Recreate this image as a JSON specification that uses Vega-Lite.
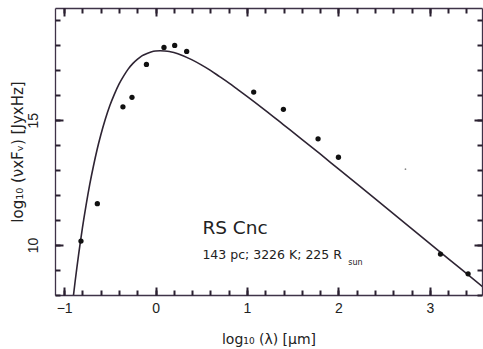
{
  "$schema": "https://vega.github.io/schema/vega-lite/v6.json",
  "width": 427,
  "height": 287,
  "autosize": {"type": "none"},
  "padding": {"left": 55, "top": 8, "right": 1, "bottom": 54},
  "background": "white",
  "config": {
    "view": {"stroke": null},
    "axis": {"grid": false, "domainColor": "#3f3348", "tickColor": "#2a2030", "labelFontSize": 14, "labelColor": "#222222", "titleColor": "#222222", "titleFontWeight": "normal"}
  },
  "data": {"values": [
    {"series": "curve", "logLambda": -0.90, "logNuFnu": 7.92},
    {"series": "curve", "logLambda": -0.88, "logNuFnu": 8.54},
    {"series": "curve", "logLambda": -0.86, "logNuFnu": 9.12},
    {"series": "curve", "logLambda": -0.84, "logNuFnu": 9.67},
    {"series": "curve", "logLambda": -0.82, "logNuFnu": 10.19},
    {"series": "curve", "logLambda": -0.80, "logNuFnu": 10.69},
    {"series": "curve", "logLambda": -0.76, "logNuFnu": 11.60},
    {"series": "curve", "logLambda": -0.72, "logNuFnu": 12.43},
    {"series": "curve", "logLambda": -0.68, "logNuFnu": 13.16},
    {"series": "curve", "logLambda": -0.64, "logNuFnu": 13.82},
    {"series": "curve", "logLambda": -0.60, "logNuFnu": 14.40},
    {"series": "curve", "logLambda": -0.55, "logNuFnu": 15.04},
    {"series": "curve", "logLambda": -0.50, "logNuFnu": 15.59},
    {"series": "curve", "logLambda": -0.45, "logNuFnu": 16.05},
    {"series": "curve", "logLambda": -0.40, "logNuFnu": 16.45},
    {"series": "curve", "logLambda": -0.35, "logNuFnu": 16.77},
    {"series": "curve", "logLambda": -0.30, "logNuFnu": 17.05},
    {"series": "curve", "logLambda": -0.25, "logNuFnu": 17.27},
    {"series": "curve", "logLambda": -0.20, "logNuFnu": 17.44},
    {"series": "curve", "logLambda": -0.15, "logNuFnu": 17.58},
    {"series": "curve", "logLambda": -0.10, "logNuFnu": 17.67},
    {"series": "curve", "logLambda": -0.05, "logNuFnu": 17.74},
    {"series": "curve", "logLambda": 0.00, "logNuFnu": 17.78},
    {"series": "curve", "logLambda": 0.05, "logNuFnu": 17.79},
    {"series": "curve", "logLambda": 0.10, "logNuFnu": 17.78},
    {"series": "curve", "logLambda": 0.15, "logNuFnu": 17.76},
    {"series": "curve", "logLambda": 0.20, "logNuFnu": 17.72},
    {"series": "curve", "logLambda": 0.30, "logNuFnu": 17.59},
    {"series": "curve", "logLambda": 0.40, "logNuFnu": 17.42},
    {"series": "curve", "logLambda": 0.50, "logNuFnu": 17.22},
    {"series": "curve", "logLambda": 0.60, "logNuFnu": 17.00},
    {"series": "curve", "logLambda": 0.70, "logNuFnu": 16.75},
    {"series": "curve", "logLambda": 0.80, "logNuFnu": 16.50},
    {"series": "curve", "logLambda": 0.90, "logNuFnu": 16.23},
    {"series": "curve", "logLambda": 1.00, "logNuFnu": 15.96},
    {"series": "curve", "logLambda": 1.20, "logNuFnu": 15.40},
    {"series": "curve", "logLambda": 1.40, "logNuFnu": 14.82},
    {"series": "curve", "logLambda": 1.60, "logNuFnu": 14.24},
    {"series": "curve", "logLambda": 1.80, "logNuFnu": 13.65},
    {"series": "curve", "logLambda": 2.00, "logNuFnu": 13.05},
    {"series": "curve", "logLambda": 2.40, "logNuFnu": 11.86},
    {"series": "curve", "logLambda": 2.80, "logNuFnu": 10.66},
    {"series": "curve", "logLambda": 3.20, "logNuFnu": 9.46},
    {"series": "curve", "logLambda": 3.60, "logNuFnu": 8.26},
    {"series": "obs", "logLambda": -0.816, "logNuFnu": 10.16},
    {"series": "obs", "logLambda": -0.637, "logNuFnu": 11.66},
    {"series": "obs", "logLambda": -0.357, "logNuFnu": 15.54},
    {"series": "obs", "logLambda": -0.258, "logNuFnu": 15.92},
    {"series": "obs", "logLambda": -0.100, "logNuFnu": 17.24},
    {"series": "obs", "logLambda": 0.092, "logNuFnu": 17.92},
    {"series": "obs", "logLambda": 0.209, "logNuFnu": 18.00},
    {"series": "obs", "logLambda": 0.340, "logNuFnu": 17.76},
    {"series": "obs", "logLambda": 1.073, "logNuFnu": 16.13},
    {"series": "obs", "logLambda": 1.398, "logNuFnu": 15.44},
    {"series": "obs", "logLambda": 1.777, "logNuFnu": 14.26},
    {"series": "obs", "logLambda": 2.000, "logNuFnu": 13.52},
    {"series": "obs", "logLambda": 3.116, "logNuFnu": 9.64},
    {"series": "obs", "logLambda": 3.418, "logNuFnu": 8.85},
    {"series": "speck", "logLambda": 2.733, "logNuFnu": 13.04},
    {"series": "starName", "logLambda": 0.512, "logNuFnu": 10.68, "label": "RS Cnc"},
    {"series": "params", "logLambda": 0.512, "logNuFnu": 9.60, "label": "143 pc; 3226 K; 225 R"},
    {"series": "sub", "logLambda": 2.107, "logNuFnu": 9.28, "label": "sun"}
  ]},
  "layer": [
    {
      "transform": [{"filter": "datum.series == 'curve'"}],
      "mark": {"type": "line", "clip": true, "color": "#2e2433", "strokeWidth": 1.6, "interpolate": "monotone"},
      "encoding": {
        "x": {"field": "logLambda", "type": "quantitative",
          "scale": {"domain": [-1.1, 3.57], "nice": false, "zero": false},
          "axis": {"orient": "bottom", "values": [-1, 0, 1, 2, 3], "format": "d", "ticks": false, "domain": true, "domainWidth": 1.3, "labelFont": "Liberation Sans", "labelPadding": 6, "title": "log₁₀ (λ) [μm]", "titleFont": "DejaVu Sans", "titleFontSize": 14, "titlePadding": 17}},
        "y": {"field": "logNuFnu", "type": "quantitative",
          "scale": {"domain": [8, 19.5], "nice": false, "zero": false},
          "axis": {"orient": "left", "values": [10, 15], "ticks": false, "domain": true, "domainWidth": 1.3, "labelFont": "Liberation Sans", "labelAngle": -90, "labelPadding": 15, "title": "log₁₀ (νxFᵥ) [JyxHz]", "titleFont": "DejaVu Sans", "titleFontSize": 15, "titlePadding": 1}}
      }
    },
    {
      "transform": [{"filter": "datum.series == 'obs'"}],
      "mark": {"type": "point", "filled": true, "color": "#111111", "opacity": 1, "size": 28},
      "encoding": {
        "x": {"field": "logLambda", "type": "quantitative",
          "axis": {"orient": "bottom", "offset": -8, "values": [-1, 0, 1, 2, 3], "tickSize": 8, "tickColor": "#2a2030", "tickWidth": 2, "labels": false, "domain": false, "title": null}},
        "y": {"field": "logNuFnu", "type": "quantitative",
          "axis": {"orient": "left", "offset": -8, "values": [10, 15], "tickSize": 8, "tickColor": "#2a2030", "tickWidth": 2, "labels": false, "domain": false, "title": null}}
      }
    },
    {
      "transform": [{"filter": "datum.series == 'starName'"}],
      "mark": {"type": "text", "align": "left", "baseline": "middle", "fontSize": 18.5, "color": "#222222", "font": "DejaVu Sans"},
      "encoding": {
        "x": {"field": "logLambda", "type": "quantitative",
          "axis": {"orient": "bottom", "offset": -5, "values": [-1, -0.8, -0.6, -0.4, -0.2, 0, 0.2, 0.4, 0.6, 0.8, 1, 1.2, 1.4, 1.6, 1.8, 2, 2.2, 2.4, 2.6, 2.8, 3, 3.2, 3.4], "tickSize": 5, "tickColor": "#2a2030", "tickWidth": 2, "labels": false, "domain": false, "title": null}},
        "y": {"field": "logNuFnu", "type": "quantitative",
          "axis": {"orient": "left", "offset": -5, "values": [8, 9, 10, 11, 12, 13, 14, 15, 16, 17, 18, 19], "tickSize": 5, "tickColor": "#2a2030", "tickWidth": 2, "labels": false, "domain": false, "title": null}},
        "text": {"field": "label"}
      }
    },
    {
      "transform": [{"filter": "datum.series == 'params'"}],
      "mark": {"type": "text", "align": "left", "baseline": "middle", "fontSize": 12.5, "color": "#222222", "font": "DejaVu Sans"},
      "encoding": {
        "x": {"field": "logLambda", "type": "quantitative",
          "axis": {"orient": "top", "ticks": false, "labels": false, "domain": true, "domainWidth": 1.3, "title": null}},
        "y": {"field": "logNuFnu", "type": "quantitative",
          "axis": {"orient": "right", "ticks": false, "labels": false, "domain": true, "domainWidth": 1.3, "title": null}},
        "text": {"field": "label"}
      }
    },
    {
      "transform": [{"filter": "datum.series == 'sub'"}],
      "mark": {"type": "text", "align": "left", "baseline": "middle", "fontSize": 8, "color": "#222222", "font": "DejaVu Sans"},
      "encoding": {
        "x": {"field": "logLambda", "type": "quantitative",
          "axis": {"orient": "top", "offset": -8, "values": [-1, 0, 1, 2, 3], "tickSize": 8, "tickColor": "#2a2030", "tickWidth": 2, "labels": false, "domain": false, "title": null}},
        "y": {"field": "logNuFnu", "type": "quantitative",
          "axis": {"orient": "right", "offset": -8, "values": [10, 15], "tickSize": 8, "tickColor": "#2a2030", "tickWidth": 2, "labels": false, "domain": false, "title": null}},
        "text": {"field": "label"}
      }
    },
    {
      "transform": [{"filter": "datum.series == 'speck'"}],
      "mark": {"type": "point", "filled": true, "color": "#555555", "size": 3},
      "encoding": {
        "x": {"field": "logLambda", "type": "quantitative",
          "axis": {"orient": "top", "offset": -5, "values": [-1, -0.8, -0.6, -0.4, -0.2, 0, 0.2, 0.4, 0.6, 0.8, 1, 1.2, 1.4, 1.6, 1.8, 2, 2.2, 2.4, 2.6, 2.8, 3, 3.2, 3.4], "tickSize": 5, "tickColor": "#2a2030", "tickWidth": 2, "labels": false, "domain": false, "title": null}},
        "y": {"field": "logNuFnu", "type": "quantitative",
          "axis": {"orient": "right", "offset": -5, "values": [8, 9, 10, 11, 12, 13, 14, 15, 16, 17, 18, 19], "tickSize": 5, "tickColor": "#2a2030", "tickWidth": 2, "labels": false, "domain": false, "title": null}}
      }
    }
  ],
  "resolve": {"axis": {"x": "independent", "y": "independent"}}
}
